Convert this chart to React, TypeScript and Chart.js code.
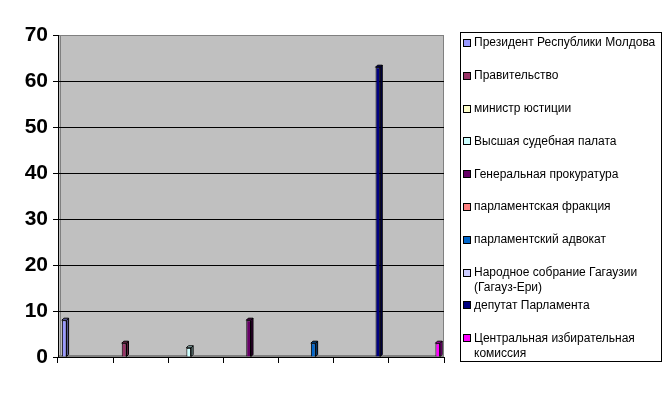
import React, { useEffect, useRef } from "react";
import { Chart, registerables } from "chart.js";

Chart.register(...registerables);

const categories = ["", "", "", "", "", "", ""];

const seriesNames = [
  "Президент Республики Молдова",
  "Правительство",
  "министр юстиции",
  "Высшая судебная палата",
  "Генеральная прокуратура",
  "парламентская фракция",
  "парламентский адвокат",
  "Народное собрание Гагаузии|(Гагауз-Ери)",
  "депутат Парламента",
  "Центральная избирательная|комиссия",
];

const president = [8, 0, 0, 0, 0, 0, 0];
const government = [0, 3, 0, 0, 0, 0, 0];
const justiceMinister = [0, 0, 0, 0, 0, 0, 0];
const supremeCourt = [0, 0, 2, 0, 0, 0, 0];
const prosecutor = [0, 0, 0, 8, 0, 0, 0];
const faction = [0, 0, 0, 0, 0, 0, 0];
const ombudsman = [0, 0, 0, 0, 3, 0, 0];
const gagauzia = [0, 0, 0, 0, 0, 0, 0];
const deputy = [0, 0, 0, 0, 0, 63, 0];
const cec = [0, 0, 0, 0, 0, 0, 3];

const seriesValues = [
  president,
  government,
  justiceMinister,
  supremeCourt,
  prosecutor,
  faction,
  ombudsman,
  gagauzia,
  deputy,
  cec,
];

const seriesColors = [
  "#9999FF",
  "#993366",
  "#FFFFCC",
  "#CCFFFF",
  "#660066",
  "#FF8080",
  "#0066CC",
  "#CCCCFF",
  "#000080",
  "#FF00FF",
];

const yTicks = [0, 10, 20, 30, 40, 50, 60, 70];

const FONT = '"Liberation Sans", Arial, sans-serif';

function darker(hex: string, f: number) {
  const n = parseInt(hex.slice(1), 16);
  const r = Math.round(((n >> 16) & 255) * f);
  const g = Math.round(((n >> 8) & 255) * f);
  const b = Math.round((n & 255) * f);
  return `rgb(${r},${g},${b})`;
}

const plotBg = {
  id: "plotBg",
  beforeDraw(chart: any) {
    const { ctx, chartArea: a } = chart;
    ctx.save();
    ctx.fillStyle = "#C0C0C0";
    ctx.fillRect(a.left, a.top, a.right - a.left, a.bottom - a.top);
    ctx.fillStyle = "#808080";
    ctx.fillRect(a.left, a.bottom - 2, a.right - a.left, 2);
    ctx.strokeStyle = "#808080";
    ctx.lineWidth = 1;
    ctx.beginPath();
    ctx.moveTo(a.left + 2.5, a.top);
    ctx.lineTo(a.left + 2.5, a.bottom);
    ctx.moveTo(a.left, a.top + 0.5);
    ctx.lineTo(a.right, a.top + 0.5);
    ctx.moveTo(a.right - 0.5, a.top);
    ctx.lineTo(a.right - 0.5, a.bottom);
    ctx.stroke();
    ctx.restore();
  },
};

const bar3d = {
  id: "bar3d",
  afterDatasetsDraw(chart: any) {
    const { ctx } = chart;
    ctx.save();
    chart.data.datasets.forEach((ds: any, di: number) => {
      const meta = chart.getDatasetMeta(di);
      meta.data.forEach((el: any, i: number) => {
        const v = ds.data[i];
        if (!v) return;
        const right = el.x + el.width / 2;
        const left = el.x - el.width / 2;
        const top = el.y;
        const base = el.base;
        const d = 2;
        ctx.fillStyle = darker(ds.backgroundColor, 0.6);
        ctx.strokeStyle = "#000000";
        ctx.lineWidth = 1;
        ctx.beginPath();
        ctx.moveTo(right, top);
        ctx.lineTo(right + d, top - d);
        ctx.lineTo(right + d, base - d);
        ctx.lineTo(right, base);
        ctx.closePath();
        ctx.fill();
        ctx.stroke();
        ctx.fillStyle = darker(ds.backgroundColor, 0.8);
        ctx.beginPath();
        ctx.moveTo(left, top);
        ctx.lineTo(left + d, top - d);
        ctx.lineTo(right + d, top - d);
        ctx.lineTo(right, top);
        ctx.closePath();
        ctx.fill();
        ctx.stroke();
      });
    });
    ctx.restore();
  },
};

const boxLegend = {
  id: "boxLegend",
  afterDraw(chart: any) {
    const { ctx } = chart;
    const x0 = 460.5;
    const y0 = 32.5;
    const w = 201;
    const h = 329;
    ctx.save();
    ctx.fillStyle = "#FFFFFF";
    ctx.fillRect(x0, y0, w, h);
    ctx.strokeStyle = "#000000";
    ctx.lineWidth = 1;
    ctx.strokeRect(x0, y0, w, h);
    ctx.font = `12px ${FONT}`;
    ctx.textBaseline = "middle";
    ctx.textAlign = "left";
    chart.data.datasets.forEach((ds: any, i: number) => {
      const yc = 43 + i * 32.8;
      ctx.fillStyle = ds.backgroundColor;
      ctx.fillRect(464, Math.round(yc) - 3, 6, 6);
      ctx.strokeStyle = "#000000";
      ctx.strokeRect(463.5, Math.round(yc) - 3.5, 7, 7);
      ctx.fillStyle = "#000000";
      const lines = String(ds.label).split("|");
      lines.forEach((ln: string, j: number) => {
        ctx.fillText(ln, 474, yc + j * 15);
      });
    });
    ctx.restore();
  },
};

export default function App() {
  const ref = useRef<HTMLCanvasElement>(null);

  useEffect(() => {
    if (!ref.current) return;
    const chart = new Chart(ref.current, {
      type: "bar",
      data: {
        labels: categories,
        datasets: seriesNames.map((name, i) => ({
          label: name,
          data: seriesValues[i],
          backgroundColor: seriesColors[i],
          borderColor: "#000000",
          borderWidth: 1,
          borderSkipped: "start",
          barPercentage: 1,
          categoryPercentage: 0.86,
        })),
      },
      options: {
        animation: false,
        responsive: false,
        maintainAspectRatio: false,
        layout: { padding: { top: 35, right: 228, left: 0, bottom: 0 } },
        plugins: {
          legend: { display: false },
          tooltip: { enabled: false },
        },
        scales: {
          x: {
            grid: {
              drawOnChartArea: false,
              drawTicks: true,
              tickLength: 6,
              tickColor: "#000000",
              offset: true,
            },
            border: { color: "#000000" },
            ticks: { display: false },
            afterFit(scale: any) {
              scale.height = 37;
            },
          },
          y: {
            min: 0,
            max: 70,
            afterBuildTicks(scale: any) {
              scale.ticks = yTicks.map((v) => ({ value: v }));
            },
            grid: {
              color: (c: any) =>
                c.tick && (c.tick.value === 0 || c.tick.value === 70) ? "rgba(0,0,0,0)" : "#000000",
              tickColor: "#000000",
              tickLength: 5,
            },
            border: { color: "#000000" },
            ticks: {
              color: "#000000",
              font: { family: FONT, size: 21, weight: "bold" },
              padding: 5,
            },
            afterFit(scale: any) {
              scale.width = 58;
            },
          },
        },
      },
      plugins: [plotBg, bar3d, boxLegend],
    });
    return () => chart.destroy();
  }, []);

  return (
    <div style={{ position: "fixed", left: 0, top: 0, width: 672, height: 394, background: "#FFFFFF" }}>
      <canvas ref={ref} width={672} height={394} />
    </div>
  );
}
